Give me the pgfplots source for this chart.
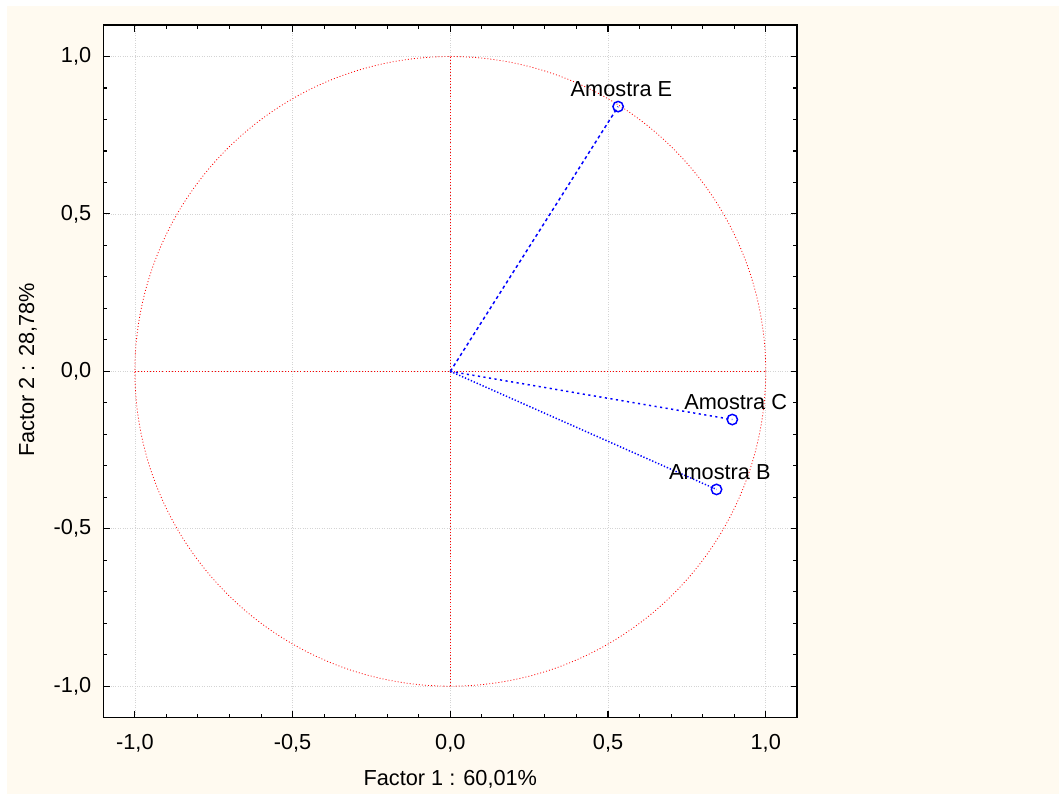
\documentclass[border=0pt]{standalone}
\usepackage{pgfplots}
\pgfplotsset{compat=1.18}
\usepackage{fontspec}
\setmainfont{Liberation Sans}
\definecolor{cream}{HTML}{FFFAF0}
\definecolor{gridgray}{HTML}{D4D4D4}
\newcommand{\chartfont}{\fontsize{16.3}{19.5}\selectfont}
\begin{document}
\chartfont
\begin{tikzpicture}[x=1pt,y=1pt]
\fill[white] (-77.5,-57.2) rectangle (716.8,538.3);
\fill[cream] (-72.2,-57.2) rectangle (716.8,533.8);
\begin{axis}[
  at={(0,0)}, anchor=south west,
  scale only axis, width=520.5pt, height=519.5pt,
  xmin=-1.1, xmax=1.1, ymin=-1.1, ymax=1.1,
  axis background/.style={fill=white},
  axis line style={line width=1.2pt, black},
  xtick={-1,-0.5,0,0.5,1}, ytick={-1,-0.5,0,0.5,1},
  minor tick num=4,
  tick align=inside,
  major tick length=5pt, minor tick length=3pt,
  every tick/.style={black, line width=0.8pt},
  grid=major,
  major grid style={gridgray, dash pattern=on 0.6pt off 1.2pt, line width=0.5pt},
  /pgf/number format/.cd, use comma, fixed, fixed zerofill, precision=1, assume math mode=true,
  /pgfplots/.cd,
  tick label style={font=\chartfont},
  xticklabel style={yshift=-6.5pt},
  yticklabel style={xshift=-3.5pt},
  xlabel={Factor 1 : 60,01\%},
  ylabel={Factor 2 : 28,78\%},
  every axis x label/.style={at={(axis description cs:0.5,-0.0885)}, anchor=center, font=\chartfont},
  every axis y label/.style={at={(axis description cs:-0.1085,0.502)}, anchor=center, rotate=90, font=\chartfont},
  clip=false,
]
% unit circle and cross
\addplot[red, dash pattern=on 0.7pt off 1.6pt, line width=0.6pt, domain=0:360, samples=361, variable=\t]
  ({cos(\t)},{sin(\t)});
\addplot[red, dash pattern=on 0.7pt off 1.6pt, line width=0.6pt] coordinates {(-1,0) (1,0)};
\addplot[red, dash pattern=on 0.7pt off 1.6pt, line width=0.6pt] coordinates {(0,-1) (0,1)};
% vectors
\addplot[blue, line width=1.1pt, dash pattern=on 2.4pt off 2.2pt] coordinates {(0,0) (0.532,0.841)};
\addplot[blue, line width=1.1pt, dash pattern=on 1.6pt off 2.6pt] coordinates {(0,0) (0.894,-0.153)};
\addplot[blue, line width=1.1pt, dash pattern=on 1.0pt off 1.4pt] coordinates {(0,0) (0.844,-0.375)};
% points with labels
\addplot[only marks, mark=o, blue, mark size=3.9pt, mark options={line width=1.1pt},
  point meta=explicit symbolic,
  nodes near coords,
  nodes near coords align={anchor=base},
  every node near coord/.style={anchor=base, xshift=2.5pt, yshift=7.5pt, black, font=\chartfont, inner sep=0pt}]
  coordinates {
    (0.532,0.841) [Amostra E]
    (0.894,-0.153) [Amostra C]
    (0.844,-0.375) [Amostra B]
  };
\end{axis}
\end{tikzpicture}
\end{document}
